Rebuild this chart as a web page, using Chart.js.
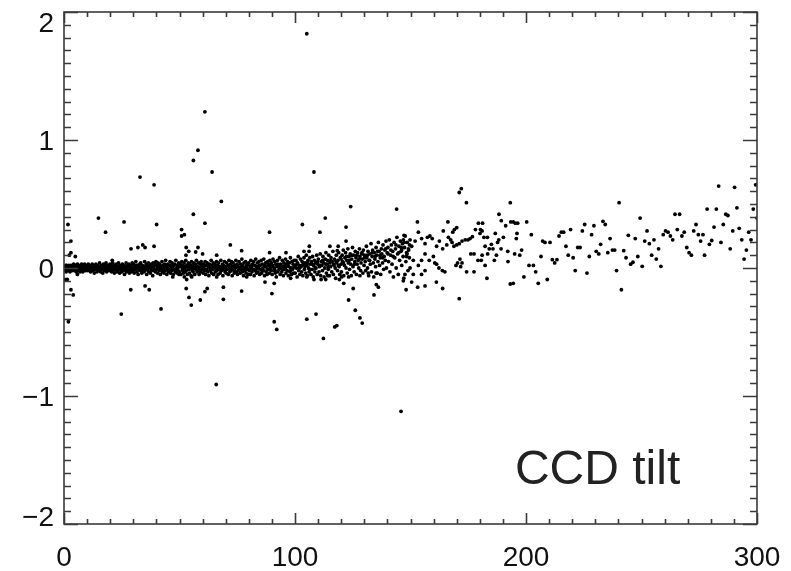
<!DOCTYPE html>
<html>
<head>
<meta charset="utf-8">
<script src="https://cdn.jsdelivr.net/npm/chart.js@4"></script>
<style>
  html, body { margin: 0; padding: 0; background: #fff; overflow: hidden; }
</style>
</head>
<body>
<canvas id="tiltChart" width="791" height="571"></canvas>
<script>
// axis ticks
var xTicks = [0, 100, 200, 300];
var yTicks = [-2, -1, 0, 1, 2];
var yTickLabels = ["\u22122", "\u22121", "0", "1", "2"];

// dense band, x 0-50
var band0 = [
  [0.1,0.0],[0.3,-0.02],[0.4,0.01],[0.6,-0.01],[0.8,0.02],[0.9,-0.03],[1.1,0.0],[1.2,0.02],[1.4,-0.01],[1.6,0.01],
  [1.7,-0.02],[1.9,0.0],[2.1,0.02],[2.3,-0.01],[2.4,0.01],[2.6,-0.03],[2.8,0.0],[3.0,0.02],[3.1,-0.01],[3.3,0.01],
  [3.5,-0.02],[3.7,0.02],[3.8,0.0],[4.0,-0.01],[4.2,0.03],[4.4,-0.02],[4.5,0.01],[4.7,-0.01],[4.9,0.02],[5.1,0.0],
  [5.3,-0.03],[5.4,0.01],[5.6,-0.01],[5.8,0.03],[6.0,0.0],[6.2,-0.02],[6.3,0.02],[6.5,-0.01],[6.7,0.01],[6.9,-0.03],
  [7.1,0.02],[7.2,0.0],[7.4,-0.02],[7.6,0.03],[7.8,-0.01],[8.0,0.01],[8.1,-0.03],[8.3,0.02],[8.5,0.0],[8.7,-0.02],
  [8.9,0.03],[9.0,-0.01],[9.2,0.01],[9.4,-0.02],[9.6,0.02],[9.8,0.0],
  [10.1,0.01],[10.3,-0.02],[10.5,0.03],[10.8,-0.01],[11.0,0.0],[11.2,0.02],[11.5,-0.03],[11.7,0.01],[11.9,-0.01],[12.2,0.03],
  [12.4,0.0],[12.6,-0.02],[12.9,0.02],[13.1,-0.04],[13.3,0.01],[13.6,-0.01],[13.8,0.03],[14.0,0.0],[14.3,-0.03],[14.5,0.02],
  [14.7,-0.01],[15.0,0.01],[15.2,-0.02],[15.4,0.04],[15.7,0.0],[15.9,-0.03],[16.1,0.02],[16.4,-0.01],[16.6,0.01],[16.8,-0.04],
  [17.1,0.03],[17.3,0.0],[17.5,-0.02],[17.8,0.02],[18.0,-0.01],[18.2,0.04],[18.5,-0.03],[18.7,0.01],[18.9,-0.01],[19.2,0.02],
  [19.4,0.0],[19.7,-0.02],[19.9,0.03],
  [20.1,-0.01],[20.4,0.02],[20.6,-0.03],[20.8,0.0],[21.1,0.04],[21.3,-0.02],[21.5,0.01],[21.8,-0.04],[22.0,0.02],[22.2,0.0],
  [22.5,-0.01],[22.7,0.03],[22.9,-0.03],[23.2,0.01],[23.4,-0.02],[23.6,0.04],[23.9,0.0],[24.1,-0.04],[24.3,0.02],[24.6,-0.01],
  [24.8,0.01],[25.0,-0.03],[25.3,0.03],[25.5,0.0],[25.7,-0.02],[26.0,0.02],[26.2,-0.05],[26.4,0.01],[26.7,-0.01],[26.9,0.04],
  [27.1,-0.03],[27.4,0.0],[27.6,0.02],[27.8,-0.02],[28.1,0.03],[28.3,-0.04],[28.5,0.01],[28.8,-0.01],[29.0,0.02],[29.2,-0.03],
  [29.5,0.04],[29.7,0.0],
  [30.0,-0.02],[30.2,0.03],[30.4,-0.04],[30.7,0.01],[30.9,-0.01],[31.1,0.05],[31.4,0.0],[31.6,-0.03],[31.8,0.02],[32.1,-0.05],
  [32.3,0.01],[32.5,-0.01],[32.8,0.03],[33.0,-0.02],[33.2,0.04],[33.5,0.0],[33.7,-0.04],[33.9,0.02],[34.2,-0.01],[34.4,0.01],
  [34.6,-0.03],[34.9,0.05],[35.1,-0.02],[35.3,0.0],[35.6,0.03],[35.8,-0.05],[36.0,0.01],[36.3,-0.01],[36.5,0.04],[36.7,-0.03],
  [37.0,0.02],[37.2,0.0],[37.4,-0.04],[37.7,0.03],[37.9,-0.02],[38.1,0.01],[38.4,-0.06],[38.6,0.04],[38.8,0.0],[39.1,-0.02],
  [39.3,0.02],[39.5,-0.03],[39.8,0.05],
  [40.0,-0.01],[40.3,0.02],[40.5,-0.04],[40.7,0.04],[41.0,0.0],[41.2,-0.02],[41.4,0.03],[41.7,-0.05],[41.9,0.01],[42.1,-0.01],
  [42.4,0.05],[42.6,-0.03],[42.8,0.02],[43.1,0.0],[43.3,-0.04],[43.5,0.03],[43.8,-0.02],[44.0,0.06],[44.2,0.01],[44.5,-0.05],
  [44.7,0.0],[44.9,0.03],[45.2,-0.03],[45.4,0.02],[45.6,-0.01],[45.9,0.05],[46.1,-0.04],[46.3,0.01],[46.6,-0.02],[46.8,0.04],
  [47.0,0.0],[47.3,-0.05],[47.5,0.02],[47.7,-0.01],[48.0,0.03],[48.2,-0.03],[48.4,0.06],[48.7,0.0],[48.9,-0.04],[49.1,0.02],
  [49.4,-0.02],[49.6,0.04],[49.9,0.01]
];

// dense band, x 50-100
var band1 = [
  [50.1,-0.03],[50.3,0.03],[50.6,-0.05],[50.8,0.01],[51.0,0.05],[51.3,-0.01],[51.5,0.02],[51.7,-0.04],[52.0,0.04],[52.2,0.0],
  [52.4,-0.03],[52.7,0.06],[52.9,-0.02],[53.1,0.02],[53.4,-0.05],[53.6,0.01],[53.8,0.04],[54.1,-0.01],[54.3,-0.04],[54.5,0.03],
  [54.8,0.0],[55.0,-0.06],[55.2,0.05],[55.5,-0.02],[55.7,0.02],[55.9,-0.03],[56.2,0.04],[56.4,0.0],[56.6,-0.05],[56.9,0.02],
  [57.1,-0.01],[57.3,0.06],[57.6,-0.03],[57.8,0.01],[58.0,-0.02],[58.3,0.04],[58.5,-0.05],[58.7,0.0],[59.0,0.03],[59.2,-0.03],
  [59.4,0.05],[59.7,-0.01],[59.9,0.02],
  [60.2,-0.04],[60.4,0.03],[60.6,0.0],[60.9,-0.02],[61.1,0.05],[61.3,-0.05],[61.6,0.02],[61.8,-0.01],[62.0,0.04],[62.3,-0.03],
  [62.5,0.01],[62.7,-0.06],[63.0,0.03],[63.2,0.0],[63.4,-0.02],[63.7,0.06],[63.9,-0.04],[64.1,0.02],[64.4,-0.01],[64.6,0.04],
  [64.8,-0.05],[65.1,0.01],[65.3,0.03],[65.5,-0.03],[65.8,0.0],[66.0,0.05],[66.2,-0.02],[66.5,0.02],[66.7,-0.05],[66.9,0.04],
  [67.2,-0.01],[67.4,0.01],[67.6,-0.04],[67.9,0.06],[68.1,-0.02],[68.3,0.0],[68.6,0.03],[68.8,-0.06],[69.0,0.02],[69.3,-0.01],
  [69.5,0.05],[69.7,-0.03],
  [70.0,0.01],[70.2,-0.04],[70.4,0.04],[70.7,-0.01],[70.9,0.02],[71.1,-0.05],[71.4,0.06],[71.6,0.0],[71.8,-0.03],[72.1,0.03],
  [72.3,-0.02],[72.5,0.05],[72.8,-0.06],[73.0,0.01],[73.2,0.04],[73.5,-0.01],[73.7,-0.04],[73.9,0.02],[74.2,0.0],[74.4,0.06],
  [74.6,-0.03],[74.9,0.03],[75.1,-0.05],[75.3,0.01],[75.6,-0.02],[75.8,0.05],[76.0,0.0],[76.3,-0.04],[76.5,0.03],[76.7,-0.01],
  [77.0,0.07],[77.2,-0.03],[77.4,0.02],[77.7,-0.06],[77.9,0.04],[78.1,0.0],[78.4,-0.02],[78.6,0.05],[78.8,-0.04],[79.1,0.02],
  [79.3,-0.01],[79.5,0.03],[79.8,-0.05],
  [80.0,0.04],[80.2,-0.02],[80.5,0.01],[80.7,-0.05],[80.9,0.06],[81.2,0.0],[81.4,-0.03],[81.6,0.03],[81.9,-0.01],[82.1,0.05],
  [82.3,-0.06],[82.6,0.02],[82.8,-0.02],[83.0,0.07],[83.3,-0.04],[83.5,0.01],[83.7,0.04],[84.0,-0.03],[84.2,0.0],[84.4,0.05],
  [84.7,-0.05],[84.9,0.02],[85.1,-0.01],[85.4,0.06],[85.6,-0.04],[85.8,0.03],[86.1,0.0],[86.3,-0.02],[86.5,0.07],[86.8,-0.06],
  [87.0,0.02],[87.2,0.04],[87.5,-0.03],[87.7,0.01],[87.9,-0.05],[88.2,0.05],[88.4,-0.01],[88.6,0.03],[88.9,-0.04],[89.1,0.06],
  [89.3,0.0],[89.6,-0.02],[89.8,0.04],
  [90.1,-0.05],[90.3,0.02],[90.5,0.07],[90.8,-0.02],[91.0,0.0],[91.2,0.05],[91.5,-0.04],[91.7,0.03],[91.9,-0.07],[92.2,0.01],
  [92.4,0.06],[92.6,-0.03],[92.9,0.02],[93.1,-0.01],[93.3,0.08],[93.6,-0.05],[93.8,0.03],[94.0,0.0],[94.3,-0.03],[94.5,0.06],
  [94.7,0.01],[95.0,-0.06],[95.2,0.04],[95.4,-0.01],[95.7,0.02],[95.9,0.07],[96.1,-0.04],[96.4,0.03],[96.6,-0.02],[96.8,0.05],
  [97.1,-0.06],[97.3,0.01],[97.5,0.04],[97.8,-0.03],[98.0,0.08],[98.2,0.0],[98.5,-0.05],[98.7,0.05],[98.9,-0.01],[99.2,0.03],
  [99.4,-0.04],[99.6,0.06],[99.9,0.01]
];

// extra points filling the core of the band, x 10-150
var bandCore = [
  [10.6,0.0],[11.8,0.01],[12.8,-0.01],[13.9,0.02],[15.1,-0.01],[16.2,0.0],[17.4,0.01],[18.4,-0.02],[19.5,0.01],[20.7,-0.01],
  [21.7,0.02],[22.8,0.0],[23.8,-0.01],[25.1,0.01],[26.1,0.0],[27.2,-0.01],[28.4,0.02],[29.4,0.0],[30.5,-0.01],[31.5,0.02],
  [32.7,0.0],[33.8,-0.02],[34.8,0.01],[35.9,-0.01],[37.1,0.01],[38.2,-0.01],[39.2,0.03],[40.4,0.0],[41.5,0.01],[42.5,-0.02],
  [43.7,0.01],[44.8,-0.01],[45.8,0.02],[47.1,0.02],[48.1,-0.02],[49.2,0.0],[50.4,0.02],[51.4,-0.02],[52.5,0.01],[53.7,-0.01],
  [54.7,0.02],[55.8,0.0],[57.0,0.03],[58.1,-0.01],[59.1,0.0],[60.3,0.01],[61.4,-0.02],[62.4,0.02],[63.6,-0.01],[64.7,0.0],
  [65.7,0.02],[66.8,0.0],[68.0,-0.02],[69.1,0.01],[70.3,-0.01],[71.3,0.02],[72.4,0.0],[73.6,-0.02],[74.7,0.02],[75.7,-0.01],
  [76.9,0.01],[78.0,-0.02],[79.0,0.0],[80.3,-0.01],[81.3,0.02],[82.5,-0.01],[83.6,0.0],[84.6,0.02],[85.7,-0.02],[86.9,0.01],
  [88.0,-0.01],[89.0,0.02],[90.2,0.01],[91.4,-0.02],[92.5,0.03],[93.5,0.01],[94.6,-0.01],[95.8,0.0],[96.9,0.02],[98.1,-0.02],
  [99.1,0.0],[100.8,0.03],[102.0,0.0],[103.0,0.02],[104.3,0.01],[105.3,0.04],[106.3,-0.01],[107.5,0.03],[108.7,0.0],[109.8,0.05],
  [111.0,0.02],[112.0,0.06],[113.3,0.03],[114.3,0.01],[115.5,0.06],[116.7,0.03],[117.8,0.05],[118.8,0.02],[120.0,0.07],[121.0,0.04],
  [122.3,0.09],[123.5,0.06],[124.5,0.1],[125.7,0.03],[126.8,0.1],[127.8,0.07],[129.0,0.12],[130.2,0.08],[131.3,0.1],[132.3,0.06],
  [133.5,0.12],[134.7,0.09],[135.8,0.13],[136.8,0.1],[138.0,0.08],[139.2,0.15],[140.3,0.11],[141.5,0.14],[142.5,0.09],[143.7,0.18],
  [144.9,0.12],[146.0,0.16],[147.3,0.2],[148.5,0.11],[149.6,0.18]
];

// rising band, x 100-150
var band2 = [
  [100.1,-0.04],[100.4,0.06],[100.6,0.0],[100.9,-0.07],[101.1,0.04],[101.4,0.09],[101.6,-0.02],[101.9,0.02],[102.1,-0.05],[102.4,0.07],
  [102.6,0.01],[102.9,-0.03],[103.1,0.05],[103.4,-0.06],[103.6,0.03],[103.9,0.08],[104.1,-0.01],[104.4,0.04],[104.6,-0.04],[104.9,0.1],
  [105.1,0.02],[105.4,-0.06],[105.6,0.06],[105.9,0.0],[106.1,-0.03],[106.4,0.08],[106.6,0.03],[106.9,-0.05],[107.1,0.05],[107.4,-0.01],
  [107.6,0.09],[107.9,-0.07],[108.1,0.02],[108.4,0.06],[108.6,-0.03],[108.9,0.04],[109.1,0.0],[109.4,0.1],[109.6,-0.05],[109.9,0.03],
  [110.1,0.07],[110.4,-0.03],[110.6,0.01],[110.9,0.11],[111.1,-0.06],[111.4,0.05],[111.6,0.02],[111.9,-0.02],[112.1,0.09],[112.4,0.04],
  [112.6,-0.07],[112.9,0.0],[113.1,0.07],[113.4,0.12],[113.6,-0.04],[113.9,0.03],[114.1,0.06],[114.4,-0.01],[114.6,0.1],[114.9,-0.06],
  [115.1,0.04],[115.4,0.01],[115.6,0.08],[115.9,-0.03],[116.1,0.05],[116.4,0.13],[116.6,-0.05],[116.9,0.02],[117.1,0.07],[117.4,0.0],
  [117.6,-0.08],[117.9,0.1],[118.1,0.04],[118.4,-0.02],[118.6,0.06],[118.9,0.12],[119.1,0.01],[119.4,-0.05],[119.6,0.08],[119.9,0.03],
  [120.1,-0.03],[120.4,0.1],[120.6,0.05],[120.9,0.14],[121.1,-0.06],[121.4,0.02],[121.6,0.08],[121.9,0.12],[122.1,0.0],[122.4,0.06],
  [122.6,-0.04],[122.9,0.15],[123.1,0.04],[123.4,0.09],[123.6,-0.01],[123.9,0.11],[124.1,0.03],[124.4,-0.06],[124.6,0.07],[124.9,0.16],
  [125.1,0.01],[125.4,0.1],[125.6,-0.03],[125.9,0.05],[126.1,0.13],[126.4,0.08],[126.6,-0.05],[126.9,0.03],[127.1,0.12],[127.4,0.06],
  [127.6,0.0],[127.9,0.15],[128.1,0.09],[128.4,-0.02],[128.6,0.04],[128.9,0.11],[129.1,0.07],[129.4,-0.04],[129.6,0.14],[129.9,0.02],
  [130.1,0.1],[130.4,0.05],[130.6,-0.02],[130.9,0.17],[131.1,0.08],[131.4,0.0],[131.6,0.13],[131.9,-0.06],[132.1,0.06],[132.4,0.11],
  [132.6,0.03],[132.9,0.19],[133.1,-0.03],[133.4,0.09],[133.6,0.14],[133.9,0.04],[134.1,-0.07],[134.4,0.12],[134.6,0.07],[134.9,0.01],
  [135.1,0.16],[135.4,0.1],[135.6,-0.04],[135.9,0.05],[136.1,0.2],[136.4,0.13],[136.6,0.02],[136.9,0.08],[137.1,-0.05],[137.4,0.15],
  [137.6,0.11],[137.9,0.04],[138.1,0.18],[138.4,-0.01],[138.6,0.09],[138.9,0.14],[139.1,0.06],[139.4,0.21],[139.6,0.0],[139.9,0.12],
  [140.2,0.16],[140.5,0.05],[140.8,0.22],[141.1,-0.03],[141.4,0.1],[141.7,0.18],[142.0,0.03],[142.3,0.13],[142.6,-0.07],[142.9,0.2],
  [143.2,0.08],[143.5,0.15],[143.8,0.0],[144.1,0.24],[144.4,0.11],[144.7,-0.05],[145.0,0.17],[145.3,0.06],[145.6,0.21],[145.9,0.13],
  [146.2,0.02],[146.5,0.19],[146.8,0.09],[147.1,-0.08],[147.4,0.16],[147.7,0.25],[148.0,0.05],[148.3,0.12],[148.6,0.2],[148.9,-0.02],
  [149.2,0.14],[149.5,0.08],[149.8,0.22]
];

// looser cloud, x 146-206
var cloud = [
  [146.2,0.14],[146.9,0.22],[147.2,0.255],[148.3,0.09],[149.1,0.15],[149.8,0.0],[150.5,0.17],[151.2,0.06],[152.0,0.21],[153.0,0.36],
  [153.4,0.28],[153.4,0.02],[154.8,0.23],[154.8,0.06],[156.3,0.19],[156.3,0.11],[157.3,0.24],[158.1,0.06],[158.4,0.25],[159.4,0.23],
  [159.9,0.09],[160.5,0.04],[161.3,0.17],[161.3,0.03],[162.3,0.0],[162.5,0.21],[163.8,-0.02],[163.9,0.15],[164.2,0.29],[164.9,-0.03],
  [165.7,0.18],[166.2,0.36],[166.4,0.24],[167.4,0.22],[168.0,0.20],[168.3,0.28],[168.8,0.17],[169.0,0.30],[169.7,0.02],[170.0,0.315],
  [170.0,0.18],[170.4,0.04],[171.1,0.19],[171.1,0.59],[171.4,0.07],[171.7,0.01],[172.0,0.62],[172.3,0.21],[172.3,0.04],[173.7,0.22],
  [174.2,0.51],[174.3,-0.03],[174.9,0.22],[175.8,0.23],[176.1,0.11],[176.8,0.245],[177.5,0.11],[177.5,-0.03],[178.1,0.30],[179.2,0.06],
  [179.4,0.35],[180.1,0.27],[180.3,0.30],[180.6,0.06],[181.0,0.10],[181.0,0.29],[181.2,0.35],[181.8,0.24],[182.3,0.17],[182.3,0.02],
  [183.3,0.24],[183.4,0.11],[184.1,0.15],[185.0,0.185],[185.7,0.15],[186.3,0.06],[186.7,0.27],[187.2,0.10],[187.7,0.20],[188.2,0.22],
  [188.3,0.42],[189.2,0.15],[189.3,0.37],[190.2,0.24],[191.2,0.33],[192.1,0.13],[192.2,0.05],[193.2,0.51],[193.4,0.36],[194.5,0.36],
  [195.1,0.11],[195.4,0.35],[195.8,0.23],[196.1,0.27],[196.4,0.35],[197.3,0.10],[198.1,0.14],[200.3,0.36],[201.3,0.02],[202.3,0.26],
  [203.2,0.02],[204.2,-0.03],
  [146.9,-0.10],[147.6,-0.05],[148.1,-0.17],[150.5,-0.11],[151.2,-0.05],[153.1,-0.15],[154.8,-0.05],[156.3,-0.14],[156.3,-0.02],[161.2,-0.11],
  [163.9,-0.16],[171.1,-0.24],[183.1,-0.08],[193.2,-0.125],[194.5,-0.12],[199.1,-0.07],[205.3,-0.12]
];

// sparse tail, x 206-300
var tail = [
  [206.5,0.09],[207.2,0.21],[208.2,0.20],[209.2,-0.09],[210.4,0.20],[211.4,0.065],[212.4,0.04],[213.4,0.065],[214.3,0.25],[215.3,0.28],
  [216.3,0.28],[217.3,0.17],[218.3,0.10],[219.3,0.30],[220.4,0.08],[221.3,-0.02],[222.4,0.16],[223.4,0.16],[224.4,0.29],[225.4,0.34],
  [226.4,-0.04],[227.4,0.09],[228.4,0.26],[229.4,0.33],[230.4,0.13],[231.5,0.11],[232.3,0.185],[233.3,0.365],[234.3,0.34],[235.4,0.12],
  [236.4,0.23],[237.4,0.14],[238.4,0.14],[239.2,-0.02],[240.3,0.51],[241.3,-0.17],[242.3,0.135],[243.3,0.08],[244.3,0.255],[245.3,0.03],
  [246.3,0.045],[247.3,0.23],[248.4,0.09],[249.4,0.39],[250.3,0.013],[251.4,0.21],[252.4,0.29],[253.4,0.19],[254.4,0.10],[255.4,0.22],
  [256.4,0.07],[257.4,0.15],[258.4,0.013],[259.4,0.26],[260.4,0.29],[261.5,0.28],[262.5,0.25],[263.5,0.22],[264.5,0.42],[265.5,0.30],
  [266.5,0.42],[267.5,0.25],[268.5,0.28],[269.6,0.16],[270.6,0.12],[271.6,0.10],[272.6,0.29],[273.6,0.34],[274.6,0.26],[275.6,0.21],
  [276.6,0.26],[277.3,0.10],[278.4,0.46],[279.4,0.185],[280.4,0.215],[281.4,0.32],[282.4,0.46],[283.4,0.64],[284.4,0.20],[285.4,0.34],
  [286.5,0.42],[287.4,0.41],[288.4,0.15],[289.5,0.29],[290.3,0.63],[291.3,0.47],[292.3,0.31],[293.4,0.22],[294.4,0.07],[295.4,0.14],
  [296.4,0.28],[297.4,0.22],[298.4,0.46],[299.4,0.65],[300.0,0.39]
];

// points well above the band
var highOutliers = [
  [1.7,0.34],[3.0,0.21],[2.3,0.10],[3.0,0.12],[4.9,0.09],[14.9,0.39],[18.0,0.28],[20.9,0.06],[26.0,0.36],[29.0,0.15],
  [32.0,0.16],[32.9,0.71],[34.1,0.18],[35.1,0.16],[39.0,0.65],[39.0,0.17],[40.1,0.34],[50.9,0.30],[50.9,0.25],[52.1,0.26],
  [52.9,0.16],[52.8,0.10],[54.0,0.13],[56.0,0.84],[58.0,0.92],[56.0,0.42],[58.0,0.16],[57.0,0.125],[60.0,0.11],[61.0,0.35],
  [61.0,1.22],[64.1,0.75],[66.1,0.10],[68.1,0.52],[72.0,0.18],[76.9,0.135],[89.0,0.28],[89.0,0.12],[96.1,0.12],[103.2,0.34],
  [103.9,0.13],[105.1,1.83],[106.2,0.17],[106.1,0.13],[108.2,0.75],[110.8,0.28],[113.1,0.39],[115.1,0.17],[118.7,0.17],[118.3,0.135],
  [122.1,0.32],[122.1,0.21],[124.1,0.48],[144.0,0.46]
];

// points well below the band
var lowOutliers = [
  [0.3,-0.09],[1.4,-0.09],[3.0,-0.17],[4.0,-0.21],[1.9,-0.42],[5.8,-0.05],[24.8,-0.36],[28.9,-0.17],[35.1,-0.14],[36.9,-0.17],
  [42.0,-0.32],[47.1,-0.07],[49.8,-0.05],[52.1,-0.07],[53.1,-0.09],[52.9,-0.16],[54.1,-0.23],[55.1,-0.29],[55.3,-0.07],[59.0,-0.25],
  [61.0,-0.185],[62.0,-0.16],[65.9,-0.91],[66.1,-0.07],[69.0,-0.15],[69.0,-0.245],[76.9,-0.18],[79.1,-0.07],[87.0,-0.11],[90.0,-0.2],
  [91.0,-0.12],[91.0,-0.42],[92.1,-0.48],[98.1,-0.08],[105.1,-0.40],[105.1,-0.07],[108.2,-0.09],[109.1,-0.36],[111.3,-0.09],[112.3,-0.55],
  [113.3,-0.09],[114.2,-0.06],[117.2,-0.46],[118.1,-0.45],[119.2,-0.09],[120.2,-0.07],[121.1,-0.12],[123.2,-0.25],[123.2,-0.07],[125.2,-0.16],
  [126.1,-0.33],[128.1,-0.39],[128.1,-0.06],[129.1,-0.43],[131.7,-0.04],[134.2,-0.21],[135.2,-0.13],[136.1,-0.15],[135.1,-0.04],[145.9,-1.12]
];

function toPoints(list) {
  return list.map(function (p) { return { x: p[0], y: p[1] }; });
}

var allPoints = [].concat(
  toPoints(band0), toPoints(band1), toPoints(bandCore), toPoints(band2),
  toPoints(cloud), toPoints(tail),
  toPoints(highOutliers), toPoints(lowOutliers)
);

// IDL-style box: frame, inward ticks on all sides, labels, annotation
var boxAxes = {
  id: 'boxAxes',
  afterDatasetsDraw: function (chart) {
    var ctx = chart.ctx;
    var a = chart.chartArea;
    var xs = chart.scales.x;
    var ys = chart.scales.y;
    ctx.save();
    ctx.strokeStyle = '#3a3a3a';
    ctx.lineWidth = 1.6;
    ctx.strokeRect(a.left, a.top, a.right - a.left, a.bottom - a.top);

    ctx.beginPath();
    for (var i = 0; i <= 30; i++) {
      var px = Math.round(xs.getPixelForValue(i * 10)) + 0.5;
      var len = (i % 10 === 0) ? 11 : 5;
      ctx.moveTo(px, a.bottom); ctx.lineTo(px, a.bottom - len);
      ctx.moveTo(px, a.top); ctx.lineTo(px, a.top + len);
    }
    for (var j = -20; j <= 20; j++) {
      var py = Math.round(ys.getPixelForValue(j / 10)) + 0.5;
      var ylen = (j % 10 === 0) ? 14 : 7;
      ctx.moveTo(a.left, py); ctx.lineTo(a.left + ylen, py);
      ctx.moveTo(a.right, py); ctx.lineTo(a.right - ylen, py);
    }
    ctx.stroke();

    ctx.fillStyle = '#111';
    ctx.font = '28px "Liberation Sans", Arial, sans-serif';
    ctx.textBaseline = 'alphabetic';
    ctx.textAlign = 'center';
    xTicks.forEach(function (v) {
      ctx.fillText(String(v), xs.getPixelForValue(v), a.bottom + 42);
    });
    ctx.textAlign = 'right';
    yTicks.forEach(function (v, k) {
      var py = ys.getPixelForValue(v) + 10;
      if (v === ys.max) py += 10;
      if (v === ys.min) py -= 8;
      ctx.fillText(yTickLabels[k], a.left - 10, py);
    });

    ctx.fillStyle = '#222';
    ctx.textAlign = 'left';
    ctx.font = '48px "Liberation Sans", Arial, sans-serif';
    ctx.fillText('CCD tilt', xs.getPixelForValue(195.2), ys.getPixelForValue(-1.69));
    ctx.restore();
  }
};

var ctx = document.getElementById('tiltChart').getContext('2d');

var tiltChart = new Chart(ctx, {
  type: 'scatter',
  data: {
    datasets: [{
      data: allPoints,
      backgroundColor: '#000',
      borderWidth: 0,
      pointRadius: 1.9,
      pointHoverRadius: 1.9
    }]
  },
  options: {
    responsive: false,
    animation: false,
    layout: {
      padding: { left: 64, right: 34, top: 12, bottom: 47 }
    },
    scales: {
      x: { type: 'linear', min: 0, max: 300, display: false },
      y: { type: 'linear', min: -2, max: 2, display: false }
    },
    plugins: {
      legend: { display: false },
      tooltip: { enabled: false }
    }
  },
  plugins: [boxAxes]
});
</script>
</body>
</html>
